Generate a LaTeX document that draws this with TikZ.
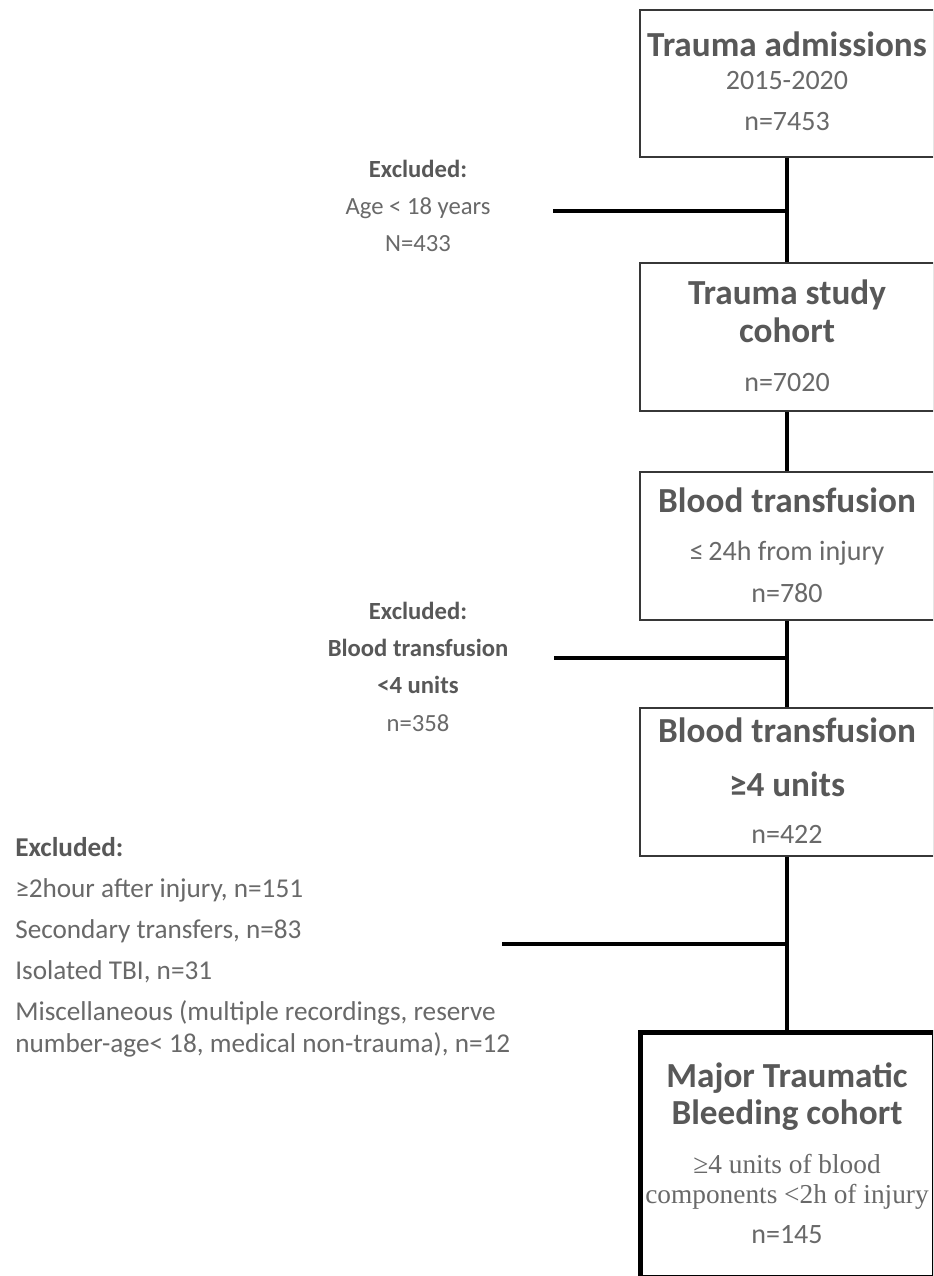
\documentclass[tikz,border=0pt]{standalone}
\usepackage{fontspec}
\setmainfont{Carlito}
\newfontfamily\serifnum{Liberation Serif}
\usetikzlibrary{fit}
\definecolor{headc}{RGB}{88,88,88}
\definecolor{textc}{RGB}{105,105,105}
\definecolor{boxc}{RGB}{55,55,55}
\tikzset{
  box/.style={draw=boxc, line width=1.5pt, inner sep=0pt},
  finalbox/.style={draw=black, line width=3.75pt, inner sep=0pt},
  conn/.style={draw=black, line width=2.5pt},
  head/.style={text=headc, font=\fontsize{26.4}{30}\selectfont\bfseries, anchor=base, inner sep=0pt},
  sub/.style={text=textc, font=\fontsize{21}{25}\selectfont, anchor=base, inner sep=0pt},
  exhead/.style={text=headc, font=\fontsize{18.5}{22}\selectfont\bfseries, anchor=base, inner sep=0pt},
  ex/.style={text=textc, font=\fontsize{18.5}{22}\selectfont, anchor=base, inner sep=0pt},
  listtxt/.style={text=textc, font=\fontsize{20.4}{24}\selectfont, anchor=base west, inner sep=0pt},
  listhead/.style={text=headc, font=\fontsize{20.4}{24}\selectfont\bfseries, anchor=base west, inner sep=0pt},
  serifsub/.style={text=textc, font=\serifnum\fontsize{20.5}{24}\selectfont, anchor=base, inner sep=0pt}
}
\begin{document}
\begin{tikzpicture}[x=0.75pt,y=-0.75pt]
\useasboundingbox (0,0) rectangle (933,1276);
\clip (0,0) rectangle (933,1276);
\fill[white] (0,0) rectangle (933,1276);

% boxes
\node[box, fit={(640,10) (934,157)}] (b1) {};
\node[box, fit={(640,263) (934,411)}] (b2) {};
\node[box, fit={(640,472) (934,620)}] (b3) {};
\node[box, fit={(640,708) (934,856)}] (b4) {};
\node[finalbox, fit={(640,1032) (934,1277)}] (b5) {};

% box texts
\node[head] (t1a) at (787,57) {Trauma admissions};
\node[sub] (t1b) at (787,90) {2015-2020};
\node[sub] (t1c) at (787,131) {n=7453};

\node[head] (t2a) at (787,305) {Trauma study};
\node[head] (t2b) at (787,343) {cohort};
\node[sub] (t2c) at (787,392) {n=7020};

\node[head] (t3a) at (787,512) {Blood transfusion};
\node[sub] (t3b) at (787,560) {≤\,24h from injury};
\node[sub] (t3c) at (787,602) {n=780};

\node[head] (t4a) at (787,742) {Blood transfusion};
\node[head] (t4b) at (787,796) {≥4 units};
\node[sub] (t4c) at (787,843) {n=422};

\node[head] (t5a) at (787,1087) {Major Traumatic};
\node[head] (t5b) at (787,1124) {Bleeding cohort};
\node[serifsub] (t5c) at (787,1173) {≥4 units of blood};
\node[serifsub] (t5d) at (787,1203) {components <2h of injury};
\node[sub] (t5e) at (787,1243) {n=145};

% exclusion labels
\node[exhead] (x1a) at (418,178) {Excluded:};
\node[ex] (x1b) at (418,215) {Age < 18 years};
\node[ex] (x1c) at (418,252) {N=433};

\node[exhead] (x2a) at (418,619) {Excluded:};
\node[exhead] (x2b) at (418,656) {Blood transfusion};
\node[exhead] (x2c) at (418,693) {<4 units};
\node[ex] (x2d) at (418,731) {n=358};

\node[listhead] (x3a) at (15,856) {Excluded:};
\node[listtxt] (x3b) at (15,897) {≥2hour after injury, n=151};
\node[listtxt] (x3c) at (15,938) {Secondary transfers, n=83};
\node[listtxt] (x3d) at (15,979) {Isolated TBI, n=31};
\node[listtxt] (x3e) at (15,1020) {Miscellaneous (multiple recordings, reserve};
\node[listtxt] (x3f) at (15,1052) {number-age< 18, medical non-trauma), n=12};

% connectors
\draw[conn] (b1.south) -- (b2.north);
\draw[conn] (b2.south) -- (b3.north);
\draw[conn] (b3.south) -- (b4.north);
\draw[conn] (b4.south) -- (b5.north);

\coordinate (e1) at (553,211);
\coordinate (e2) at (554,658);
\coordinate (e3) at (502,944);
\draw[conn] (e1) -- (e1 -| b1.south);
\draw[conn] (e2) -- (e2 -| b3.south);
\draw[conn] (e3) -- (e3 -| b4.south);
\end{tikzpicture}
\end{document}
